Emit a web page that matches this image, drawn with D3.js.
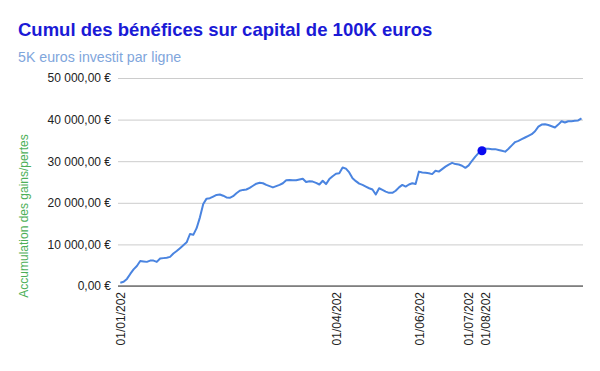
<!DOCTYPE html>
<html>
<head>
<meta charset="utf-8">
<script src="https://cdn.jsdelivr.net/npm/d3@7"></script>
<style>
  body { margin: 0; background: #fff; }
  text { font-family: "Liberation Sans", Arial, sans-serif; }
</style>
</head>
<body>
<svg id="chart" width="600" height="371"></svg>
<script>
// cumulative gains per row (euros), one value per row of the sheet
var values = [
    800, 1000, 1700, 2900, 4000, 4800, 6000, 5900, 5800, 6100,
    6100, 5800, 6600, 6700, 6800, 7000, 7800, 8400, 9100, 9800,
    10500, 12500, 12300, 13900, 16500, 19700, 21000, 21100, 21500, 21900,
    22000, 21700, 21300, 21200, 21600, 22300, 22900, 23100, 23200, 23600,
    24100, 24600, 24800, 24700, 24300, 24000, 23700, 24000, 24300, 24700,
    25400, 25500, 25400, 25400, 25600, 25800, 25000, 25200, 25100, 24800,
    24400, 25300, 24500, 25700, 26400, 27000, 27100, 28500, 28200, 27300,
    25900, 25200, 24600, 24300, 23900, 23500, 23200, 22000, 23500, 23100,
    22700, 22400, 22400, 22900, 23700, 24300, 23900, 24400, 24700, 24500,
    27500, 27300, 27200, 27100, 26900, 27700, 27500, 28100, 28700, 29200,
    29600, 29300, 29200, 28900, 28400, 29000, 30100, 31100, 32000, 32500,
    33000, 33000, 32900, 32900, 32700, 32500, 32300, 33000, 33800, 34600,
    34900, 35300, 35700, 36100, 36500, 37200, 38300, 38800, 38900, 38700,
    38400, 38100, 38800, 39600, 39300, 39600, 39600, 39700, 39800, 40300
];
// rows that carry a date label on the axis (labels are cut as in the sheet)
var dateRows = [0, 65, 90, 105, 110];
var dateLabels = ["01/01/202", "01/04/202", "01/06/202", "01/07/202", "01/08/202"];
var yTicks = [0, 10000, 20000, 30000, 40000, 50000];
var highlightRow = 109;

(function () {
    var svg = d3.select("#chart"),
        plotLeft = 118, // left edge of plot area
        plotRight = 583, // right edge of plot area
        plotTop = 78, // y of the top gridline
        plotBottom = 286; // y of the zero line

    var euro = d3.formatLocale({
        decimal: ",",
        thousands: "\u00a0",
        grouping: [3],
        currency: ["", "\u00a0€"]
    }).format("$,.2f");

    var x = d3.scalePoint()
        .domain(d3.range(values.length))
        .range([120.3, 581.5]);

    var y = d3.scaleLinear()
        .domain([0, 50000])
        .range([plotBottom, plotTop]);

    // titles
    svg.append("text")
        .attr("x", 18)
        .attr("y", 36)
        .attr("fill", "#1a1ad6")
        .attr("font-size", 18.5)
        .attr("font-weight", "bold")
        .text("Cumul des bénéfices sur capital de 100K euros");

    svg.append("text")
        .attr("x", 18)
        .attr("y", 62)
        .attr("fill", "#7fa6dc")
        .attr("font-size", 14.2)
        .text("5K euros investit par ligne");

    // gridlines + y labels
    var yAxis = svg.append("g")
        .attr("transform", "translate(" + plotLeft + ",0)")
        .call(d3.axisLeft(y)
            .tickValues(yTicks)
            .tickSize(-(plotRight - plotLeft))
            .tickPadding(7)
            .tickFormat(euro));
    yAxis.select(".domain").remove();
    yAxis.selectAll(".tick line").attr("stroke", "#cccccc");
    yAxis.selectAll(".tick text")
        .attr("fill", "#222")
        .attr("font-size", 12)
        .attr("font-family", "Liberation Sans, Arial, sans-serif");

    // zero line
    svg.append("line")
        .attr("x1", plotLeft)
        .attr("x2", plotRight)
        .attr("y1", y(0))
        .attr("y2", y(0))
        .attr("stroke", "#333");

    // x labels
    var xAxis = svg.append("g")
        .attr("transform", "translate(0," + plotBottom + ")")
        .call(d3.axisBottom(x)
            .tickValues(dateRows)
            .tickSize(0)
            .tickFormat(function (d) { return dateLabels[dateRows.indexOf(d)]; }));
    xAxis.select(".domain").remove();
    xAxis.selectAll(".tick text")
        .attr("fill", "#222")
        .attr("font-size", 12)
        .attr("font-family", "Liberation Sans, Arial, sans-serif")
        .attr("text-anchor", "end")
        .attr("transform", "rotate(-90)")
        .attr("x", -6)
        .attr("y", 0)
        .attr("dy", "0.35em");

    // y axis title
    svg.append("text")
        .attr("transform", "translate(28,216) rotate(-90)")
        .attr("text-anchor", "middle")
        .attr("fill", "#4caf57")
        .attr("font-size", 12)
        .text("Accumulation des gains/pertes");

    // the line
    svg.append("path")
        .datum(values)
        .attr("fill", "none")
        .attr("stroke", "#4a84e0")
        .attr("stroke-width", 2)
        .attr("stroke-linejoin", "round")
        .attr("d", d3.line()
            .x(function (d, i) { return x(i); })
            .y(function (d) { return y(d); }));

    // highlighted point
    svg.append("circle")
        .attr("cx", x(highlightRow))
        .attr("cy", y(values[highlightRow]))
        .attr("r", 4.5)
        .attr("fill", "#0a0af0");
})();
</script>
</body>
</html>
